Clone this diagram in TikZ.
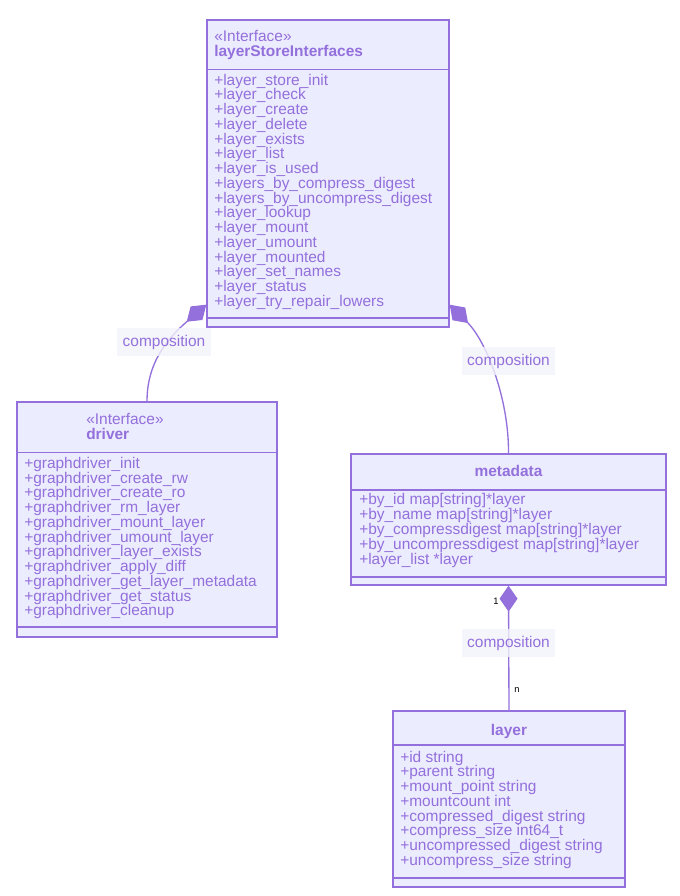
\documentclass[tikz,border=0pt]{standalone}
\usepackage{fontspec}
\setmainfont{Liberation Sans}
\usetikzlibrary{arrows.meta}
\definecolor{umlline}{HTML}{9370DB}
\definecolor{umlfill}{HTML}{ECECFF}
\definecolor{lblfill}{HTML}{F3F3FB}
\begin{document}
\begin{tikzpicture}[x=0.75pt, y=-0.75pt, font=\fontsize{11.6pt}{14pt}\selectfont]
        \tikzstyle{classbox} = [rectangle, draw=umlline, fill=umlfill, line width=1pt, inner sep=0pt]
        \tikzstyle{sep} = [draw=umlline, line width=1pt]
        \tikzstyle{member} = [anchor=base west, inner sep=0pt, text=umlline]
        \tikzstyle{title} = [inner sep=0pt, text=umlline, font=\fontsize{11.6pt}{14pt}\selectfont\bfseries]
        \tikzstyle{comp} = [draw=umlline, line width=1pt, -{Diamond[length=19.5pt, width=13.5pt]}]
        \tikzstyle{edgelabel} = [fill=lblfill, fill opacity=0.8, text opacity=1, text=umlline, minimum height=21pt, inner xsep=4.2pt]
        \tikzstyle{mult} = [inner sep=0pt, font=\fontsize{7pt}{8pt}\selectfont]

        \useasboundingbox (0,0) rectangle (679,896);

        % layerStoreInterfaces
        \node (store) [classbox, minimum width=181.5pt, minimum height=230.25pt] at (328,173.5) {};
        \draw[sep] (store.west |- 0,69.5) -- (store.east |- 0,69.5);
        \draw[sep] (store.west |- 0,318) -- (store.east |- 0,318);
        \node (store-st) [member] at (214,41.7) {«Interface»};
        \node (store-name) [title, anchor=base west] at (214,56.7) {layerStoreInterfaces};
        \foreach \m [count=\i from 0] in {layer\_store\_init, layer\_check, layer\_create, layer\_delete, layer\_exists, layer\_list, layer\_is\_used, layers\_by\_compress\_digest, layers\_by\_uncompress\_digest, layer\_lookup, layer\_mount, layer\_umount, layer\_mounted, layer\_set\_names, layer\_status, layer\_try\_repair\_lowers}
            \node (store-m\i) [member] at (214,{85+\i*14.75}) {+\m};

        % driver
        \node (driver) [classbox, minimum width=195pt, minimum height=176.25pt] at (147,519.5) {};
        \draw[sep] (driver.west |- 0,452.5) -- (driver.east |- 0,452.5);
        \draw[sep] (driver.west |- 0,627) -- (driver.east |- 0,627);
        \node (driver-st) [member] at (86,424.3) {«Interface»};
        \node (driver-name) [title, anchor=base west] at (86,439) {driver};
        \foreach \m [count=\i from 0] in {graphdriver\_init, graphdriver\_create\_rw, graphdriver\_create\_ro, graphdriver\_rm\_layer, graphdriver\_mount\_layer, graphdriver\_umount\_layer, graphdriver\_layer\_exists, graphdriver\_apply\_diff, graphdriver\_get\_layer\_metadata, graphdriver\_get\_status, graphdriver\_cleanup}
            \node (driver-m\i) [member] at (24,{468.3+\i*14.75}) {+\m};

        % metadata
        \node (metadata) [classbox, minimum width=236.25pt, minimum height=98.25pt] at (508.5,519.5) {};
        \draw[sep] (metadata.west |- 0,490) -- (metadata.east |- 0,490);
        \draw[sep] (metadata.west |- 0,577) -- (metadata.east |- 0,577);
        \node (metadata-name) [title, anchor=base] at (508.5,476) {metadata};
        \foreach \m [count=\i from 0] in {by\_id map[string]*layer, by\_name map[string]*layer, by\_compressdigest map[string]*layer, by\_uncompressdigest map[string]*layer, layer\_list *layer}
            \node (metadata-m\i) [member] at (359,{504+\i*15}) {+\m};

        % layer
        \node (layer) [classbox, minimum width=174pt, minimum height=132pt] at (509,799) {};
        \draw[sep] (layer.west |- 0,745) -- (layer.east |- 0,745);
        \draw[sep] (layer.west |- 0,878) -- (layer.east |- 0,878);
        \node (layer-name) [title, anchor=base] at (509,735) {layer};
        \foreach \m [count=\i from 0] in {id string, parent string, mount\_point string, mountcount int, compressed\_digest string, compress\_size int64\_t, uncompressed\_digest string, uncompress\_size string}
            \node (layer-m\i) [member] at (400,{762+\i*14.75}) {+\m};

        % compositions
        \coordinate (storeL) at ([yshift=17.25pt]store.south west);
        \coordinate (storeR) at ([yshift=17.25pt]store.south east);
        \draw[comp] (driver.north) .. controls (147,362) and (168,338) .. (storeL);
        \draw[comp] (metadata.north) .. controls (509,400) and (487,342) .. (storeR);
        \draw[comp] (layer.north) -- (metadata.south);

        \node (lbl-driver) [edgelabel] at (164,342) {composition};
        \node (lbl-metadata) [edgelabel] at (508.5,361) {composition};
        \node (lbl-layer) [edgelabel] at (508.5,643) {composition};
        \node (mult-one) [mult] at (496,601) {1};
        \node (mult-n) [mult] at (517,690) {n};
    \end{tikzpicture}
\end{document}
